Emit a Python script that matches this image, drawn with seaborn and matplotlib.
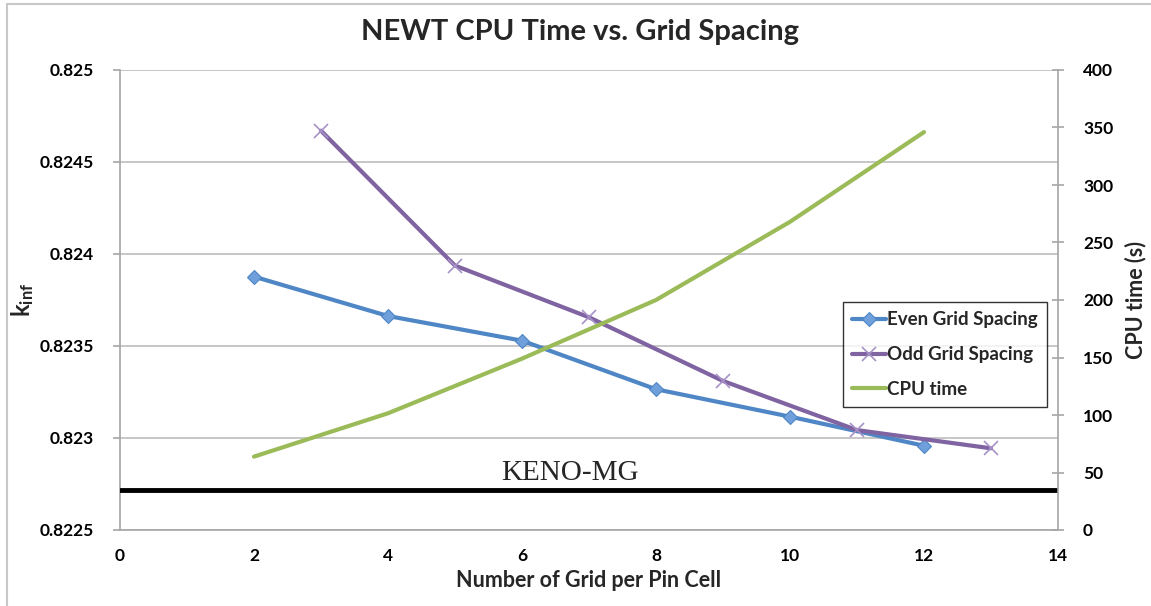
import matplotlib
matplotlib.use("Agg")
import matplotlib.pyplot as plt
import seaborn as sns
import pandas as pd
from matplotlib.patches import Rectangle

# data
even_x = [2, 4, 6, 8, 10, 12]
even_k = [0.823877, 0.823663, 0.823529, 0.823265, 0.823116, 0.822958]
odd_x = [3, 5, 7, 9, 11, 13]
odd_k = [0.82467, 0.823937, 0.823656, 0.82331, 0.823043, 0.822944]
cpu_x = [2, 4, 6, 8, 10, 12]
cpu_t = [63.8, 101.5, 149, 200, 268, 346]
keno_k = 0.822717

x_ticks = [0, 2, 4, 6, 8, 10, 12, 14]
k_ticks = [0.8225, 0.823, 0.8235, 0.824, 0.8245, 0.825]
k_labels = ['0.8225', '0.823', '0.8235', '0.824', '0.8245', '0.825']
t_ticks = [0, 50, 100, 150, 200, 250, 300, 350, 400]

BLUE = '#4F86C6'
PURPLE = '#8064A2'
GREEN = '#9BBB59'
GRAY = '#a6a6a6'

sns.set_style('white')
plt.rcParams['font.family'] = ['Lato', 'DejaVu Sans']
plt.rcParams['font.weight'] = 'bold'
plt.rcParams['mathtext.fontset'] = 'custom'
plt.rcParams['mathtext.bf'] = 'Lato:bold'
plt.rcParams['mathtext.rm'] = 'Lato:bold'

even_df = pd.DataFrame({'x': even_x, 'k': even_k})
odd_df = pd.DataFrame({'x': odd_x, 'k': odd_k})
cpu_df = pd.DataFrame({'x': cpu_x, 't': cpu_t})

fig = plt.figure(figsize=(11.51, 6.06), dpi=100)
ax = fig.add_axes([120 / 1151, 1 - 530 / 606, 938 / 1151, 460 / 606])
ax2 = ax.twinx()

# outer chart frame
fig.patches.append(Rectangle((7 / 1151, -0.05), 1.2, 1 - 4 / 606 + 0.05,
                             transform=fig.transFigure, fill=False,
                             edgecolor='#c8c8c8', linewidth=1.5))

sns.lineplot(data=even_df, x='x', y='k', ax=ax, color=BLUE, linewidth=3,
             marker='D', markersize=7, markerfacecolor='#6fa0dc',
             markeredgecolor=BLUE, markeredgewidth=0.8, label='Even Grid Spacing',
             legend=False)
sns.lineplot(data=odd_df, x='x', y='k', ax=ax, color=PURPLE, linewidth=3,
             marker='x', markersize=10, markeredgecolor='#a792c8',
             markeredgewidth=1.2, label='Odd Grid Spacing', legend=False)
ax.axhline(keno_k, color='black', linewidth=3.5, zorder=5)
ax.text(6.72, keno_k + 0.00002, 'KENO-MG', family='Liberation Serif',
        fontweight='normal', fontsize=21, ha='center', va='bottom')

sns.lineplot(data=cpu_df, x='x', y='t', ax=ax2, color=GREEN, linewidth=3,
             label='CPU time', legend=False)

ax.set_xlim(0, 14)
ax.set_ylim(0.8225, 0.825)
ax2.set_ylim(0, 400)
ax.set_xticks(x_ticks)
ax.set_yticks(k_ticks)
ax.set_yticklabels(k_labels)
ax2.set_yticks(t_ticks)

ax.grid(axis='y', color='#bdbdbd', linewidth=1.2)
ax.grid(axis='x', visible=False)
ax2.grid(False)

for a in (ax, ax2):
    for s in a.spines.values():
        s.set_color(GRAY)
        s.set_linewidth(1.2)
    a.spines['top'].set_visible(False)
ax2.spines['left'].set_visible(False)
ax2.spines['bottom'].set_visible(False)
ax.spines['right'].set_visible(False)

ax.tick_params(axis='both', colors=GRAY, labelcolor='black', labelsize=12.5,
               length=5, width=1.2, direction='out')
ax.tick_params(axis='x', pad=8)
ax.tick_params(axis='y', pad=14)
ax2.tick_params(axis='y', colors=GRAY, labelcolor='black', labelsize=12.5,
                length=8, width=1.2, direction='inout', pad=14)
for lab in ax.get_xticklabels() + ax.get_yticklabels() + ax2.get_yticklabels():
    lab.set_fontweight('bold')

ax.set_xlabel('Number of Grid per Pin Cell', fontsize=15.5, fontweight='bold',
              labelpad=4)
ax.set_ylabel(r'$\mathbf{k_{inf}}$', fontsize=17, labelpad=2)
ax2.set_ylabel('CPU time (s)', fontsize=15.5, fontweight='bold', labelpad=8)

fig.suptitle('NEWT CPU Time vs. Grid Spacing', fontsize=21,
             fontweight='bold', x=0.504, y=0.968)

h1, l1 = ax.get_legend_handles_labels()
h2, l2 = ax2.get_legend_handles_labels()
leg = ax2.legend(h1 + h2, l1 + l2, loc='upper left',
                 bbox_to_anchor=(843 / 1151, 1 - 302 / 606),
                 bbox_transform=fig.transFigure, fontsize=13.5,
                 frameon=True, fancybox=False, handlelength=1.8,
                 handletextpad=0.05, borderpad=0.5, labelspacing=0.95,
                 borderaxespad=0)
leg.get_frame().set_edgecolor('black')
leg.get_frame().set_linewidth(1.0)
for t in leg.get_texts():
    t.set_fontweight('bold')

fig.savefig('out.png', dpi=100)
